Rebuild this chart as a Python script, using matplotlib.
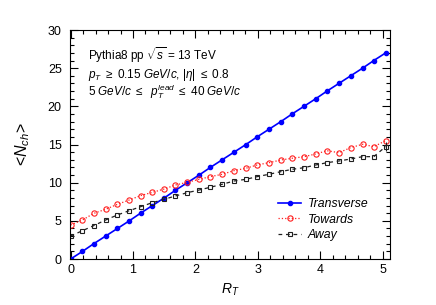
import matplotlib
matplotlib.use('Agg')
import matplotlib.pyplot as plt
from matplotlib.ticker import MultipleLocator
import numpy as np

plt.rcParams['font.family'] = ['Liberation Sans', 'DejaVu Sans']
plt.rcParams['mathtext.fontset'] = 'custom'
plt.rcParams['mathtext.rm'] = 'Liberation Sans'
plt.rcParams['mathtext.it'] = 'Liberation Sans:italic'

# R_T bin centres
rt = [0.00, 0.19, 0.37, 0.56, 0.75, 0.94, 1.12, 1.31, 1.50, 1.68,
      1.87, 2.06, 2.24, 2.43, 2.62, 2.81, 2.99, 3.18, 3.37, 3.55,
      3.74, 3.93, 4.11, 4.30, 4.49, 4.68, 4.86, 5.05]

transverse = [0.0, 1.0, 2.0, 3.0, 4.0, 5.0, 6.0, 7.0, 8.0, 9.0,
              10.0, 11.0, 12.0, 13.0, 14.0, 15.0, 16.0, 17.0, 18.0, 19.0,
              20.0, 21.0, 22.0, 23.0, 24.0, 25.0, 26.0, 27.0]

towards = [4.46, 5.11, 5.98, 6.51, 7.17, 7.73, 8.30, 8.73, 9.17, 9.70,
           10.05, 10.44, 10.79, 11.10, 11.58, 11.89, 12.32, 12.62, 12.97, 13.20,
           13.40, 13.76, 14.19, 13.93, 14.59, 15.03, 14.72, 15.50]

away = [3.01, 3.71, 4.37, 5.11, 5.77, 6.33, 6.85, 7.38, 7.82, 8.26,
        8.69, 9.04, 9.40, 9.79, 10.22, 10.44, 10.79, 11.10, 11.44, 11.75,
        11.96, 12.32, 12.62, 12.84, 13.10, 13.41, 13.41, 14.72]
away_err = [0.0] * 27 + [0.6]

fig = plt.figure(figsize=(4.36, 3.05), dpi=100)
ax = fig.add_axes([0.1606, 0.1508, 0.7339, 0.7508])

ax.plot(rt, transverse, color='#0000ff', lw=1.2, marker='o', ms=3.0,
        label='Transverse')
ax.plot(rt, towards, color='#ff2020', lw=0.9, ls=':', marker='o', ms=3.8,
        mfc='none', mec='#ff2020', mew=0.8, label='Towards')
ax.plot(rt, away, color='#202020', lw=0.9, ls=(0, (3, 3)), marker='s', ms=3.5,
        mfc='none', mec='#202020', mew=0.8, label='Away')
ax.errorbar(rt, away, yerr=away_err, fmt='none', ecolor='#202020', elinewidth=0.8)

ax.set_xlim(-0.01, 5.12)
ax.set_ylim(0, 30)
ax.xaxis.set_major_locator(MultipleLocator(1))
ax.xaxis.set_minor_locator(MultipleLocator(0.2))
ax.yaxis.set_major_locator(MultipleLocator(5))
ax.yaxis.set_minor_locator(MultipleLocator(1))
ax.tick_params(which='both', direction='in', top=True, right=True, labelsize=9)
ax.tick_params(axis='y', which='major', pad=6)
ax.tick_params(which='major', length=6, width=0.8)
ax.tick_params(which='minor', length=3, width=0.8)
for s in ax.spines.values():
    s.set_linewidth(0.8)

ax.set_xlabel('$R_{T}$', fontsize=10, labelpad=4)
ax.set_ylabel(r'<$N_{ch}$>', fontsize=11.5, labelpad=11)

ax.text(0.056, 0.89, r'Pythia8 pp $\sqrt{s}$ = 13 TeV', transform=ax.transAxes,
        fontsize=8.5, va='center')
ax.text(0.056, 0.805, r'$p_{T}$ $\geq$ 0.15 $GeV/c$, |$\eta$| $\leq$ 0.8',
        transform=ax.transAxes, fontsize=8.5, va='center')
ax.text(0.056, 0.733, r'5 $GeV/c$ $\leq$  $p_{T}^{lead}$ $\leq$ 40 $GeV/c$',
        transform=ax.transAxes, fontsize=8.5, va='center')

leg = ax.legend(loc='upper left', bbox_to_anchor=(0.65, 0.266), frameon=False,
                fontsize=8.8, handlelength=1.9, handletextpad=0.55,
                labelspacing=0.3, borderpad=0, borderaxespad=0)
for t in leg.get_texts():
    t.set_fontstyle('italic')

fig.savefig('out.png', dpi=100)
